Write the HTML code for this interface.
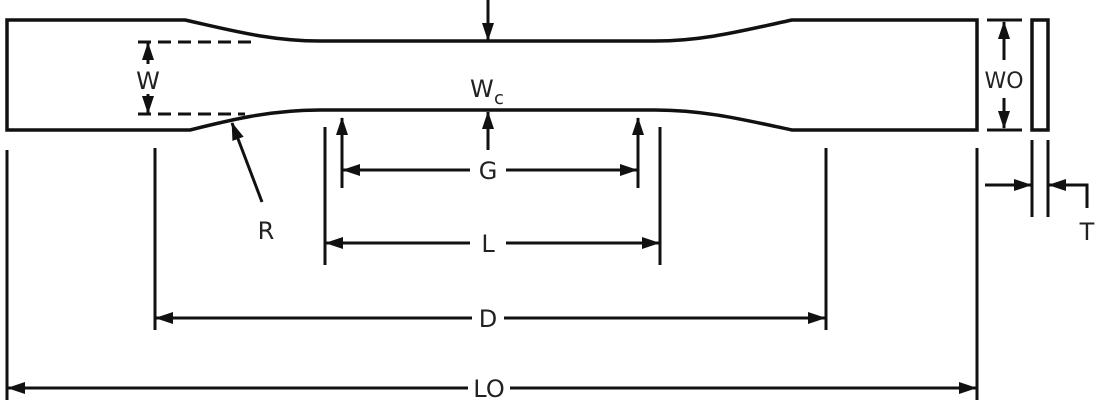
<!DOCTYPE html>
<html><head><meta charset="utf-8"><style>
html,body{margin:0;padding:0;background:#fff;}
svg{display:block;}
text{font-family:"DejaVu Sans","Liberation Sans",sans-serif;font-size:24px;fill:#222;}
</style></head><body>
<svg width="1102" height="414" viewBox="0 0 1102 414" xmlns="http://www.w3.org/2000/svg">
<defs>
<marker id="a" markerWidth="18" markerHeight="12" refX="17" refY="6" orient="auto" markerUnits="userSpaceOnUse">
<path d="M0,0 L18,6 L0,12 Z" fill="#111"/></marker>
</defs>
<g stroke="#111" stroke-width="3.5" fill="none">
<path d="M7,20 L185,20 C230,30 270,41 320,41 L655,41 C705,41 745,30 792,20 L977,20 L977,130 L792,130 C745,120 705,110 655,110 L320,110 C270,110 230,120 190,130 L7,130 Z"/>
<rect x="1032" y="20" width="16" height="110"/>
</g>
<g stroke="#111" stroke-width="3" fill="none">
<line x1="138" y1="42" x2="252" y2="42" stroke-dasharray="13,7"/>
<line x1="138" y1="114" x2="245" y2="114" stroke-dasharray="13,7"/>
<line x1="148" y1="64" x2="148" y2="43" marker-end="url(#a)"/>
<line x1="148" y1="94" x2="148" y2="113" marker-end="url(#a)"/>
<line x1="488" y1="0" x2="488" y2="40" marker-end="url(#a)"/>
<line x1="488" y1="150" x2="488" y2="112" marker-end="url(#a)"/>
<line x1="262" y1="202" x2="232" y2="123" marker-end="url(#a)"/>
<line x1="7" y1="150" x2="7" y2="400"/>
<line x1="155" y1="148" x2="155" y2="330"/>
<line x1="325" y1="127" x2="325" y2="265"/>
<line x1="342" y1="188" x2="342" y2="118" marker-end="url(#a)"/>
<line x1="638" y1="188" x2="638" y2="118" marker-end="url(#a)"/>
<line x1="660" y1="127" x2="660" y2="265"/>
<line x1="826" y1="148" x2="826" y2="330"/>
<line x1="977" y1="148" x2="977" y2="400"/>
<line x1="470" y1="170" x2="343" y2="170" marker-end="url(#a)"/>
<line x1="506" y1="170" x2="637" y2="170" marker-end="url(#a)"/>
<line x1="470" y1="243" x2="326" y2="243" marker-end="url(#a)"/>
<line x1="506" y1="243" x2="659" y2="243" marker-end="url(#a)"/>
<line x1="472" y1="318" x2="156" y2="318" marker-end="url(#a)"/>
<line x1="504" y1="318" x2="825" y2="318" marker-end="url(#a)"/>
<line x1="468" y1="388" x2="8" y2="388" marker-end="url(#a)"/>
<line x1="510" y1="388" x2="976" y2="388" marker-end="url(#a)"/>
<line x1="987" y1="20" x2="1022" y2="20"/>
<line x1="987" y1="130" x2="1022" y2="130"/>
<line x1="1004" y1="60" x2="1004" y2="22" marker-end="url(#a)"/>
<line x1="1004" y1="98" x2="1004" y2="128" marker-end="url(#a)"/>
<line x1="1032" y1="140" x2="1032" y2="217"/>
<line x1="1048" y1="140" x2="1048" y2="217"/>
<line x1="985" y1="185" x2="1031" y2="185" marker-end="url(#a)"/>
<polyline points="1087,208 1087,185 1049,185" marker-end="url(#a)"/>
</g>
<text x="148" y="89" text-anchor="middle">W</text>
<text x="470" y="97">W</text><text x="494" y="104" style="font-size:18px">c</text>
<text x="266" y="239" text-anchor="middle">R</text>
<text x="488" y="179" text-anchor="middle">G</text>
<text x="488" y="252" text-anchor="middle">L</text>
<text x="488" y="327" text-anchor="middle">D</text>
<text x="489" y="397" text-anchor="middle">LO</text>
<text x="1004" y="88" text-anchor="middle" style="font-size:22px">WO</text>
<text x="1087" y="240" text-anchor="middle">T</text>
</svg>
</body></html>
